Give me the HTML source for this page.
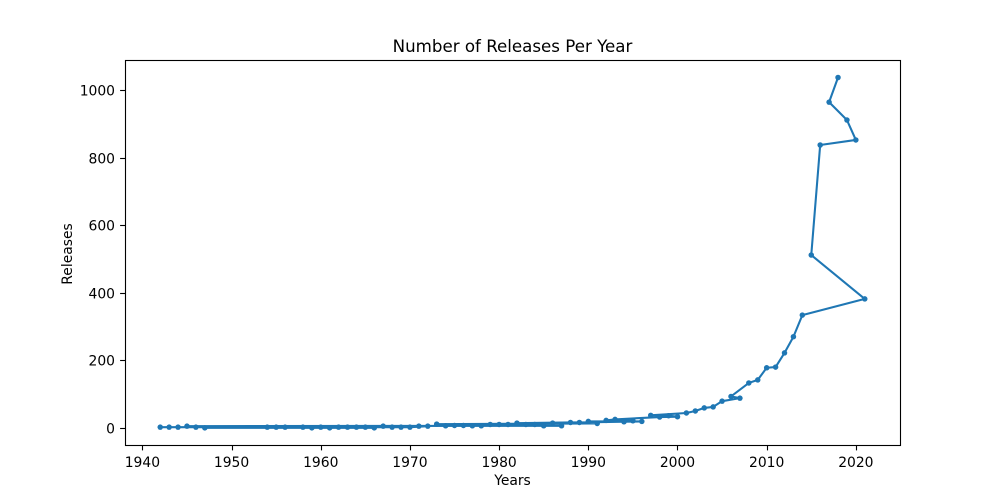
<!DOCTYPE html>
<html>
<head>
<meta charset="utf-8">
<title>Number of Releases Per Year</title>
<style>
html,body{margin:0;padding:0;background:#fff;}
svg{display:block;}
text{font-family:"DejaVu Sans","Liberation Sans",sans-serif;fill:#000;}
</style>
</head>
<body>
<svg id="chart" xmlns="http://www.w3.org/2000/svg" width="1000" height="500" viewBox="0 0 1000 500">
<rect x="125" y="60" width="775" height="385" fill="#fff"/>
<g id="ticks"></g>
<g id="series"></g>
<rect x="125.5" y="60.5" width="775" height="385" fill="none" stroke="#000" stroke-width="1.11"/>
<text x="512.5" y="52" font-size="16.67" text-anchor="middle">Number of Releases Per Year</text>
<text x="512.5" y="485" font-size="13.89" text-anchor="middle">Years</text>
<text transform="translate(72 254) rotate(-90)" font-size="13.89" text-anchor="middle">Releases</text>
</svg>
<script>
const years = [2018,2017,2019,2020,2016,2015,2021,2014,2013,2012,2011,2010,2009,2008,2006,2007,2005,2004,2003,2002,2001,1997,1999,2000,1998,1993,1992,1995,1990,1996,1994,1989,1988,1982,1986,1991,1973,1979,1980,1981,1983,1984,1975,1976,1974,1977,1978,1985,1987,1945,1967,1971,1972,1970,1946,1969,1944,1968,1943,1965,1942,1964,1954,1963,1955,1962,1956,1960,1958,1966,1961,1959,1947];
const releases = [1038,965,912,853,838,512,382,334,270,222,180,178,142,133,93,88,79,62,59,50,44,37,36,33,32,25,22,21,19,19,18,16,16,14,14,13,11,10,10,10,10,10,7,7,6,6,6,6,6,5,5,5,5,2,2,2,2,2,2,2,2,2,2,2,2,2,2,2,2,0,0,0,0];
const xTicks = [1940,1950,1960,1970,1980,1990,2000,2010,2020];
const yTicks = [0,200,400,600,800,1000];

const NS = 'http://www.w3.org/2000/svg';
const plot = {left:125, right:900, top:60, bottom:445};
const xMin = 1938.05, xMax = 2024.95, yMin = -50.85, yMax = 1089.85;
function sx(v){ return plot.left + (v - xMin) / (xMax - xMin) * (plot.right - plot.left); }
function sy(v){ return plot.bottom - (v - yMin) / (yMax - yMin) * (plot.bottom - plot.top); }

const tickGroup = document.getElementById('ticks');
const seriesGroup = document.getElementById('series');

xTicks.forEach(function(t){
  const px = Math.round(sx(t)) + 0.5;
  const mark = document.createElementNS(NS, 'line');
  
  
  mark.setAttribute('x1', px);
  mark.setAttribute('x2', px);
  mark.setAttribute('y1', plot.bottom);
  mark.setAttribute('y2', plot.bottom + 5.4);
  mark.setAttribute('stroke', '#000');
  mark.setAttribute('stroke-width', '1.11');
  tickGroup.appendChild(mark);
  const label = document.createElementNS(NS, 'text');
  
  
  label.setAttribute('x', sx(t));
  label.setAttribute('y', 467);
  label.setAttribute('font-size', '13.89');
  label.setAttribute('text-anchor', 'middle');
  label.textContent = t;
  tickGroup.appendChild(label);
});

yTicks.forEach(function(t){
  const py = Math.round(sy(t)) + 0.5;
  const mark = document.createElementNS(NS, 'line');
  
  
  mark.setAttribute('x1', plot.left - 4.9);
  mark.setAttribute('x2', plot.left);
  mark.setAttribute('y1', py);
  mark.setAttribute('y2', py);
  mark.setAttribute('stroke', '#000');
  mark.setAttribute('stroke-width', '1.11');
  tickGroup.appendChild(mark);
  const label = document.createElementNS(NS, 'text');
  
  
  label.setAttribute('x', 115);
  label.setAttribute('y', py + 5);
  label.setAttribute('font-size', '13.89');
  label.setAttribute('text-anchor', 'end');
  label.textContent = t;
  tickGroup.appendChild(label);
});

const linePath = document.createElementNS(NS, 'path');


linePath.setAttribute('d', years.map(function(y, i){
  return (i ? 'L' : 'M') + sx(y).toFixed(2) + ' ' + sy(releases[i]).toFixed(2);
}).join(' '));
linePath.setAttribute('fill', 'none');
linePath.setAttribute('stroke', '#1f77b4');
linePath.setAttribute('stroke-width', '2.08');
linePath.setAttribute('stroke-linejoin', 'round');
seriesGroup.appendChild(linePath);

years.forEach(function(y, i){
  const dot = document.createElementNS(NS, 'circle');
  
  
  dot.setAttribute('cx', sx(y).toFixed(2));
  dot.setAttribute('cy', sy(releases[i]).toFixed(2));
  dot.setAttribute('r', '2.75');
  dot.setAttribute('fill', '#1f77b4');
  seriesGroup.appendChild(dot);
});
</script>
</body>
</html>
